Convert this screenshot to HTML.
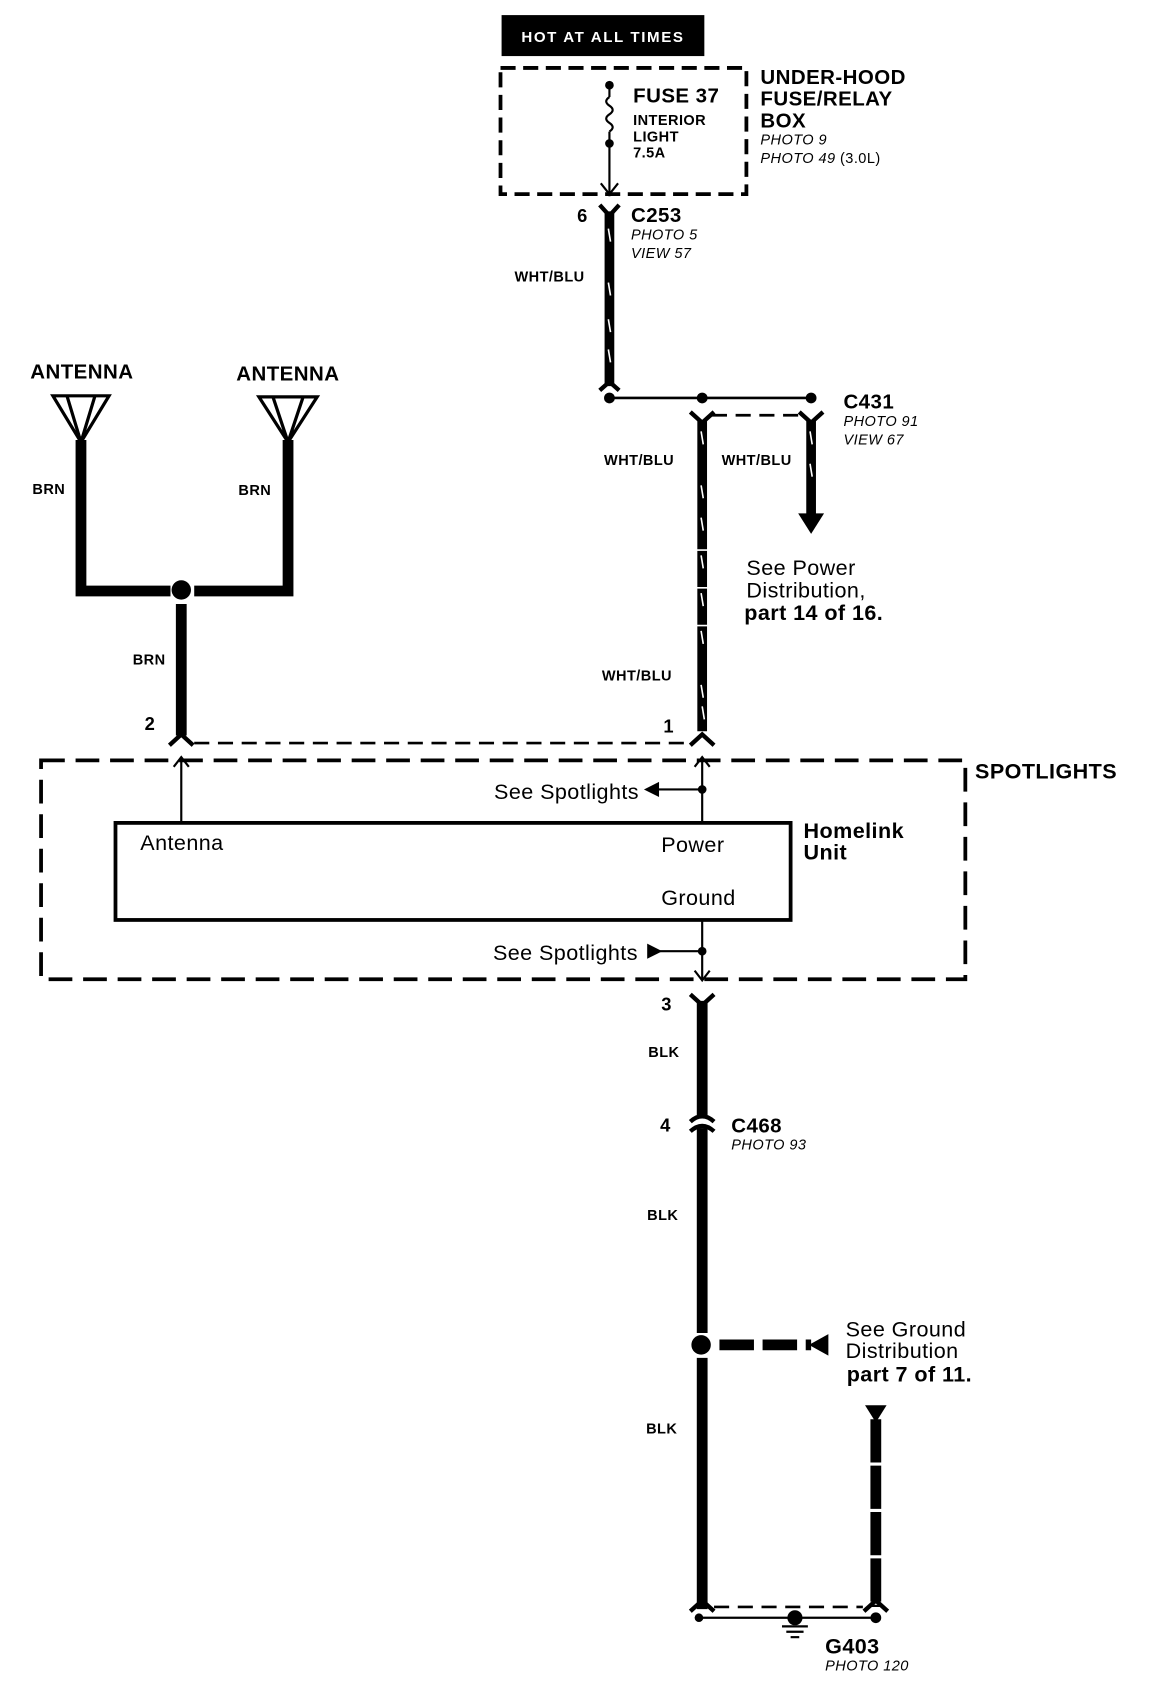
<!DOCTYPE html>
<html><head><meta charset="utf-8"><style>
html,body{margin:0;padding:0;background:#fff;}
svg{display:block;}
text{font-family:"Liberation Sans",Arial,sans-serif;fill:#000;letter-spacing:0.4px;}
.b{font-weight:bold;}
.i{font-style:italic;}
</style></head><body>
<svg width="1152" height="1690" viewBox="0 0 1068 1567" xmlns="http://www.w3.org/2000/svg">
<rect width="1068" height="1567" fill="#fff"/>
<rect x="465" y="14" width="188" height="38" fill="#000"/>
<text x="559" y="39" font-size="14" text-anchor="middle" style="fill:#fff;letter-spacing:1.5px" class="b">HOT AT ALL TIMES</text>
<rect x="464" y="63" width="228" height="117" fill="none" stroke="#000" stroke-width="3.5" stroke-dasharray="14,7"/>
<line x1="565" y1="78" x2="565" y2="90" stroke="#000" stroke-width="2"/>
<path d="M565 90 q-6 4 0 8 q6 4 0 8 q-6 4 0 8 q6 4 0 8" fill="none" stroke="#000" stroke-width="2"/>
<line x1="565" y1="122" x2="565" y2="182" stroke="#000" stroke-width="2"/>
<circle cx="565" cy="79" r="4"/><circle cx="565" cy="133" r="4"/>
<path d="M557 170 L565 180 L573 170" fill="none" stroke="#000" stroke-width="2"/>
<text x="587" y="95" font-size="19" class="b">FUSE 37</text>
<text x="587" y="116" font-size="13.5" class="b">INTERIOR</text>
<text x="587" y="131" font-size="13.5" class="b">LIGHT</text>
<text x="587" y="146" font-size="13.5" class="b">7.5A</text>
<text x="705" y="78" font-size="19" class="b">UNDER-HOOD</text>
<text x="705" y="98" font-size="19" class="b">FUSE/RELAY</text>
<text x="705" y="118" font-size="19" class="b">BOX</text>
<text x="705" y="134" font-size="13.5" class="i">PHOTO 9</text>
<text x="705" y="151" font-size="13.5" class="i">PHOTO 49 <tspan font-style="normal">(3.0L)</tspan></text>
<text x="535" y="206" font-size="17" class="b">6</text>
<path d="M556 190 L565 200 L574 190" fill="none" stroke="#000" stroke-width="4"/>
<line x1="565" y1="196" x2="565" y2="358" stroke="#000" stroke-width="9"/>
<path d="M556 362 L565 354 L574 362" fill="none" stroke="#000" stroke-width="4"/>
<g stroke="#fff" stroke-width="1.5"><line x1="564" y1="212" x2="566" y2="224"/><line x1="564" y1="262" x2="566" y2="274"/><line x1="564" y1="296" x2="566" y2="308"/><line x1="564" y1="324" x2="566" y2="336"/></g>
<text x="585" y="206" font-size="19" class="b">C253</text>
<text x="585" y="222" font-size="13.5" class="i">PHOTO 5</text>
<text x="585" y="239" font-size="13.5" class="i">VIEW 57</text>
<text x="477" y="261" font-size="13.5" class="b">WHT/BLU</text>
<line x1="565" y1="369" x2="752" y2="369" stroke="#000" stroke-width="2.5"/>
<circle cx="565" cy="369" r="5"/><circle cx="651" cy="369" r="5"/><circle cx="752" cy="369" r="5"/>
<line x1="660" y1="385" x2="744" y2="385" stroke="#000" stroke-width="2.5" stroke-dasharray="14,8"/>
<path d="M640 382 L651 392 L662 382" fill="none" stroke="#000" stroke-width="4"/>
<path d="M741 382 L752 392 L763 382" fill="none" stroke="#000" stroke-width="4"/>
<line x1="651" y1="390" x2="651" y2="678" stroke="#000" stroke-width="9"/>
<line x1="752" y1="390" x2="752" y2="478" stroke="#000" stroke-width="9"/>
<polygon points="740,476 764,476 752,495"/>
<g stroke="#fff" stroke-width="1.5"><line x1="650" y1="400" x2="652" y2="412"/><line x1="650" y1="450" x2="652" y2="462"/><line x1="650" y1="480" x2="652" y2="492"/><line x1="650" y1="515" x2="652" y2="527"/><line x1="650" y1="550" x2="652" y2="562"/><line x1="650" y1="585" x2="652" y2="597"/><line x1="650" y1="635" x2="652" y2="647"/><line x1="651" y1="655" x2="653" y2="667"/><line x1="751" y1="400" x2="753" y2="412"/><line x1="751" y1="430" x2="753" y2="442"/></g>
<line x1="643" y1="510" x2="659" y2="510" stroke="#fff" stroke-width="1.5"/>
<line x1="643" y1="545" x2="659" y2="545" stroke="#fff" stroke-width="1.5"/>
<line x1="643" y1="580" x2="659" y2="580" stroke="#fff" stroke-width="1.5"/>
<text x="782" y="379" font-size="19" class="b">C431</text>
<text x="782" y="395" font-size="13.5" class="i">PHOTO 91</text>
<text x="782" y="412" font-size="13.5" class="i">VIEW 67</text>
<text x="560" y="431" font-size="13.5" class="b">WHT/BLU</text>
<text x="669" y="431" font-size="13.5" class="b">WHT/BLU</text>
<text x="558" y="631" font-size="13.5" class="b">WHT/BLU</text>
<text x="692" y="533" font-size="20">See Power</text>
<text x="692" y="554" font-size="20">Distribution,</text>
<text x="690" y="575" font-size="20" class="b">part 14 of 16.</text>
<text x="28" y="351" font-size="19" class="b">ANTENNA</text>
<text x="219" y="353" font-size="19" class="b">ANTENNA</text>
<path d="M49 367 L101 367 L75 410 Z M62 367 L75 410 L88 367" fill="none" stroke="#000" stroke-width="3"/>
<path d="M240 368 L294 368 L267 410 Z M253 368 L267 410 L281 368" fill="none" stroke="#000" stroke-width="3"/>
<path d="M75 408 L75 548 L158 548" fill="none" stroke="#000" stroke-width="10"/>
<path d="M267 408 L267 548 L180 548" fill="none" stroke="#000" stroke-width="10"/>
<circle cx="168" cy="547" r="9"/>
<line x1="168" y1="560" x2="168" y2="682" stroke="#000" stroke-width="10"/>
<text x="30" y="458" font-size="13.5" class="b">BRN</text>
<text x="221" y="459" font-size="13.5" class="b">BRN</text>
<text x="123" y="616" font-size="13.5" class="b">BRN</text>
<text x="134" y="677" font-size="17" class="b">2</text>
<text x="615" y="679" font-size="17" class="b">1</text>
<path d="M157 691 L168 681 L179 691" fill="none" stroke="#000" stroke-width="4"/>
<path d="M640 691 L651 681 L662 691" fill="none" stroke="#000" stroke-width="4"/>
<line x1="180" y1="689" x2="640" y2="689" stroke="#000" stroke-width="2.5" stroke-dasharray="14,8"/>
<rect x="38" y="705" width="857" height="203" fill="none" stroke="#000" stroke-width="3.5" stroke-dasharray="22,10"/>
<text x="904" y="722" font-size="20" class="b">SPOTLIGHTS</text>
<line x1="168" y1="762" x2="168" y2="703" stroke="#000" stroke-width="2"/>
<path d="M161 711 L168 702 L175 711" fill="none" stroke="#000" stroke-width="2"/>
<line x1="651" y1="762" x2="651" y2="703" stroke="#000" stroke-width="2"/>
<path d="M644 711 L651 702 L658 711" fill="none" stroke="#000" stroke-width="2"/>
<text x="458" y="741" font-size="20">See Spotlights</text>
<polygon points="597,732 611,725 611,739"/>
<line x1="608" y1="732" x2="651" y2="732" stroke="#000" stroke-width="2"/>
<circle cx="651" cy="732" r="4"/>
<rect x="107" y="763" width="626" height="90" fill="none" stroke="#000" stroke-width="3.5"/>
<text x="130" y="788" font-size="20">Antenna</text>
<text x="613" y="790" font-size="20">Power</text>
<text x="613" y="839" font-size="20">Ground</text>
<text x="745" y="777" font-size="20" class="b">Homelink</text>
<text x="745" y="797" font-size="20" class="b">Unit</text>
<text x="457" y="890" font-size="20">See Spotlights</text>
<polygon points="614,882 600,875 600,889"/>
<line x1="612" y1="882" x2="651" y2="882" stroke="#000" stroke-width="2"/>
<circle cx="651" cy="882" r="4"/>
<line x1="651" y1="853" x2="651" y2="908" stroke="#000" stroke-width="2"/>
<path d="M644 900 L651 909 L658 900" fill="none" stroke="#000" stroke-width="2"/>
<text x="613" y="937" font-size="17" class="b">3</text>
<path d="M640 922 L651 932 L662 922" fill="none" stroke="#000" stroke-width="4"/>
<line x1="651" y1="928" x2="651" y2="1034" stroke="#000" stroke-width="10"/>
<path d="M640 1040 Q651 1030 662 1040 M640 1049 Q651 1039 662 1049" fill="none" stroke="#000" stroke-width="4"/>
<line x1="651" y1="1046" x2="651" y2="1236" stroke="#000" stroke-width="10"/>
<circle cx="650" cy="1247" r="9"/>
<line x1="651" y1="1259" x2="651" y2="1492" stroke="#000" stroke-width="10"/>
<text x="612" y="1049" font-size="17" class="b">4</text>
<text x="678" y="1050" font-size="19" class="b">C468</text>
<text x="678" y="1066" font-size="13.5" class="i">PHOTO 93</text>
<text x="601" y="980" font-size="13.5" class="b">BLK</text>
<text x="600" y="1131" font-size="13.5" class="b">BLK</text>
<text x="599" y="1329" font-size="13.5" class="b">BLK</text>
<line x1="667" y1="1247" x2="752" y2="1247" stroke="#000" stroke-width="10" stroke-dasharray="32,8"/>
<polygon points="750,1247 768,1237 768,1257"/>
<text x="784" y="1239" font-size="20">See Ground</text>
<text x="784" y="1259" font-size="20">Distribution</text>
<text x="785" y="1281" font-size="20" class="b">part 7 of 11.</text>
<polygon points="802,1303 822,1303 812,1319"/>
<line x1="812" y1="1316" x2="812" y2="1490" stroke="#000" stroke-width="10" stroke-dasharray="40,3"/>
<path d="M640 1494 L651 1484 L662 1494" fill="none" stroke="#000" stroke-width="4"/>
<path d="M801 1494 L812 1484 L823 1494" fill="none" stroke="#000" stroke-width="4"/>
<line x1="662" y1="1490" x2="800" y2="1490" stroke="#000" stroke-width="2.5" stroke-dasharray="14,8"/>
<line x1="646" y1="1500" x2="812" y2="1500" stroke="#000" stroke-width="2"/>
<circle cx="648" cy="1500" r="4"/><circle cx="812" cy="1500" r="5"/>
<circle cx="737" cy="1500" r="7"/>
<line x1="725" y1="1508" x2="749" y2="1508" stroke="#000" stroke-width="2"/>
<line x1="729" y1="1513" x2="745" y2="1513" stroke="#000" stroke-width="2"/>
<line x1="733" y1="1518" x2="741" y2="1518" stroke="#000" stroke-width="2"/>
<text x="765" y="1533" font-size="20" class="b">G403</text>
<text x="765" y="1549" font-size="13.5" class="i">PHOTO 120</text>
</svg>
</body></html>
